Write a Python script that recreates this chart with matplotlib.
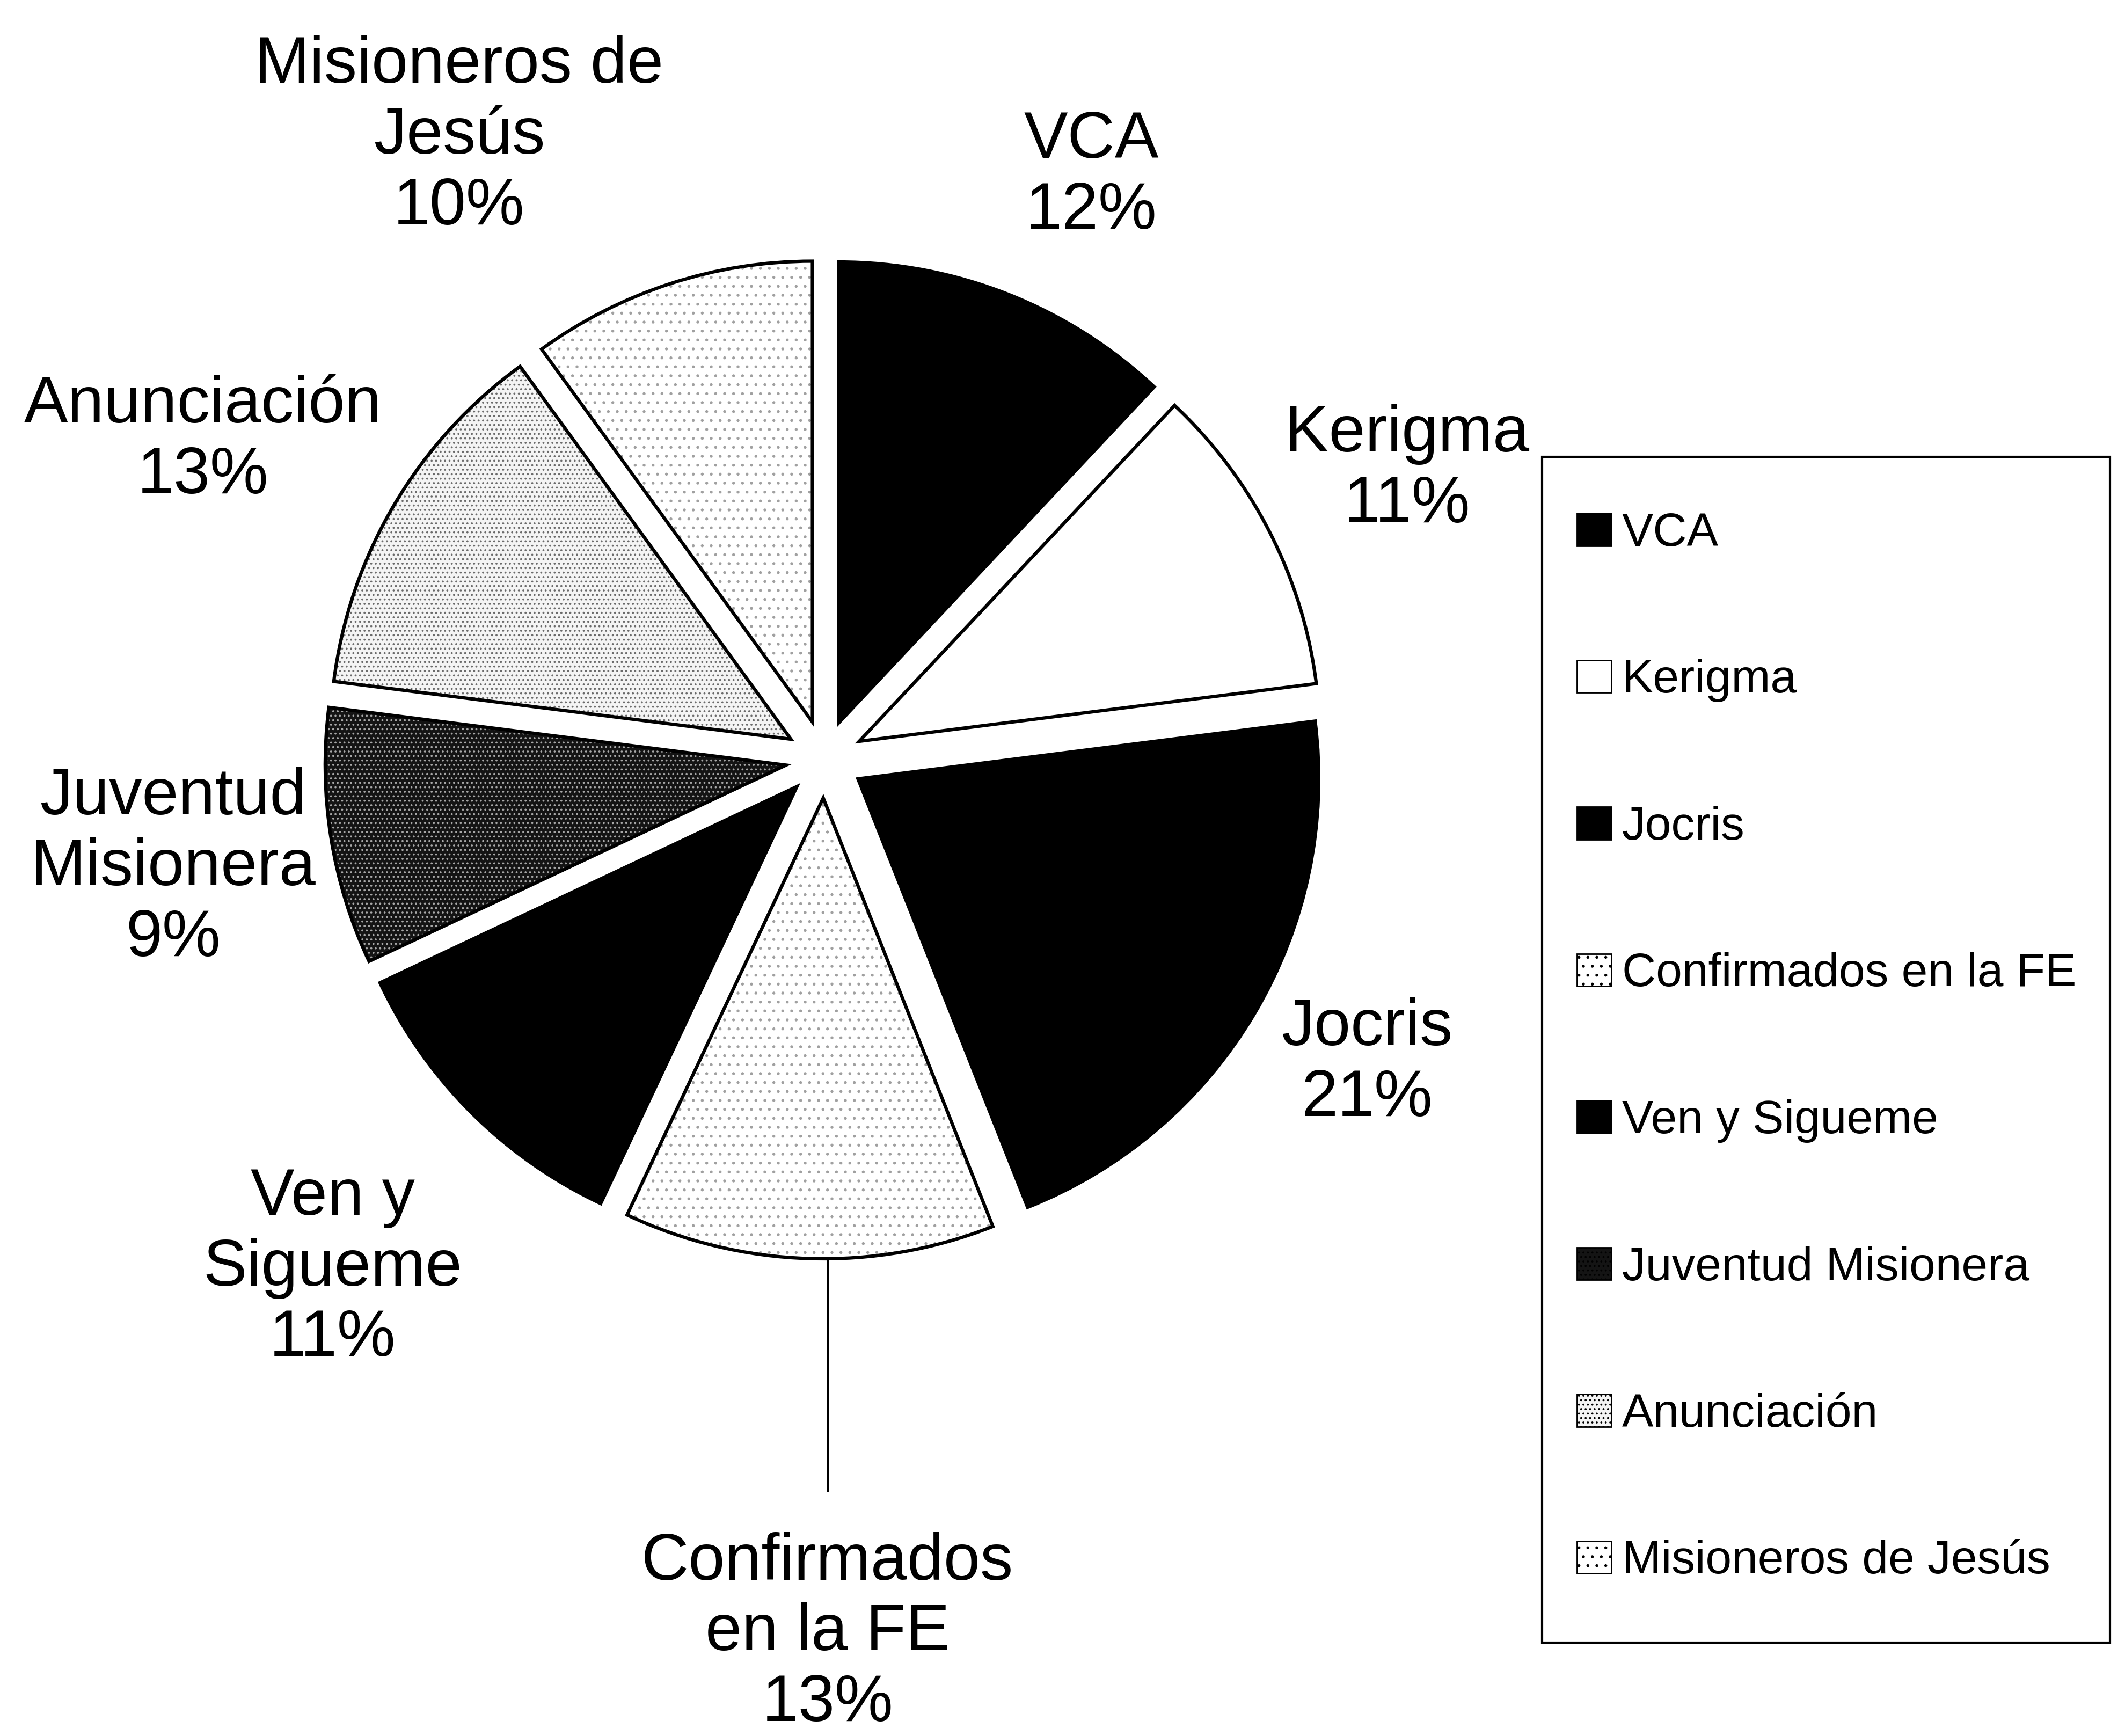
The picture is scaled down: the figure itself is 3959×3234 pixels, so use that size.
import matplotlib
matplotlib.use('Agg')
import matplotlib.pyplot as plt
from matplotlib.patches import Wedge, Patch, Rectangle
import numpy as np

plt.rcParams['font.family'] = ['Liberation Sans', 'DejaVu Sans']
plt.rcParams['hatch.linewidth'] = 1.5

# data
categories = ['VCA', 'Kerigma', 'Jocris', 'Confirmados en la FE', 'Ven y Sigueme',
              'Juventud Misionera', 'Anunciación', 'Misioneros de Jesús']
slice_labels = ['VCA', 'Kerigma', 'Jocris', 'Confirmados\nen la FE', 'Ven y\nSigueme',
                'Juventud\nMisionera', 'Anunciación', 'Misioneros de\nJesús']
percent = [12, 11, 21, 13, 11, 9, 13, 10]

# styles
fills = ['black', 'white', 'black', 'white', 'black', '#141414', '#f4f4f4', 'white']
hatches = [None, None, None, '.', None, '..', '..', '.']
hatch_colors = ['black', 'black', 'black', '#a0a0a0', 'black', '#a8a8a8', '#6a6a6a', '#a0a0a0']
label_dist = [1.35, 1.37, 1.31, 1.84, 1.49, 1.39, 1.47, 1.52]
label_shift = [-3, -0.6, 1.3, 2, 1, 0.5, 3.5, 12.4]

W, H = 3959, 3234
fig = plt.figure(figsize=(W / 100, H / 100), dpi=100)
ax = fig.add_axes([0, 0, 1, 1])

wedges, _ = ax.pie(percent, startangle=90, counterclock=False, explode=[0.082] * len(percent),
                   colors=fills, radius=0.97, wedgeprops=dict(linewidth=0))

for w, h, hc in zip(wedges, hatches, hatch_colors):
    if h:
        w.set_hatch(h)
        w.set_edgecolor(hc)
    ax.add_patch(Wedge(w.center, w.r, w.theta1, w.theta2, fill=False,
                       edgecolor='black', lw=4.5, joinstyle='miter'))

for w, lab, p, d, s in zip(wedges, slice_labels, percent, label_dist, label_shift):
    ang = np.deg2rad((w.theta1 + w.theta2) / 2 + s)
    x, y = d * np.cos(ang), d * np.sin(ang)
    ax.text(x, y, lab + '\n' + str(p) + '%', ha='center', va='center',
            fontsize=88, linespacing=1.2)
    if lab.startswith('Confirmados'):
        ax.plot([x, x], [-1.05, -1.54], color='black', lw=2.5)

# axes mapping: center at (1536,1414) px, radius unit 885 px
cx, cy, r = 1536, 1414, 885
ax.set_aspect('auto')
ax.set_xlim(-cx / r, (W - cx) / r)
ax.set_ylim(-(H - cy) / r, cy / r)
ax.axis('off')

# legend box drawn separately
fig.patches.append(Rectangle((2873 / W, 1 - 3060 / H), (3931 - 2873) / W, (3060 - 851) / H,
                             transform=fig.transFigure, fill=False, edgecolor='black', lw=3))
handles = [Patch(facecolor=f, edgecolor='black', hatch=h, lw=2) for f, h in zip(fills, hatches)]
leg = fig.legend(handles, categories, loc='upper left',
                 bbox_to_anchor=(2938 / W, 1 - 954 / H),
                 fontsize=63, frameon=False, labelspacing=2.2,
                 handlelength=0.73, handleheight=0.69, handletextpad=0.23,
                 borderpad=0, borderaxespad=0)

fig.savefig('out.png', dpi=100, facecolor='white')
